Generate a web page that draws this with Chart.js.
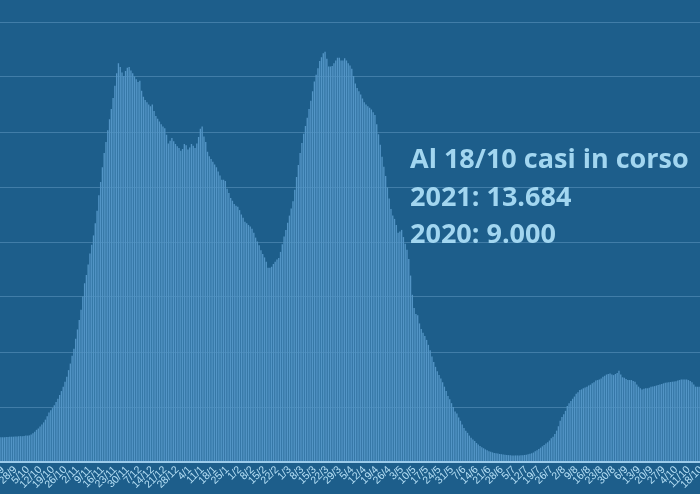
<!DOCTYPE html>
<html lang="it">
<head>
<meta charset="utf-8">
<title>Casi in corso</title>
<script src="https://cdn.jsdelivr.net/npm/chart.js@4"></script>
<style>
  html, body { margin: 0; padding: 0; background: #1d5e8b; overflow: hidden; }
  #wrap { width: 700px; height: 494px; position: relative; }
</style>
</head>
<body>
<div id="wrap"><canvas id="chart"></canvas></div>
<script>
// casi in corso (migliaia), un valore al giorno dal 21/9/2020 al 18/10/2021
const casiInCorso = [
  4.5, 4.5, 4.5, 4.55, 4.55, 4.6, 4.6, 4.6, 4.65, 4.65,
  4.7, 4.7, 4.7, 4.75, 4.8, 4.8, 4.85, 5.0, 5.25, 5.5,
  5.85, 6.1, 6.45, 6.8, 7.2, 7.7, 8.3, 9.0, 9.4, 9.8,
  10.3, 10.9, 11.5, 12.2, 12.9, 13.7, 14.6, 15.5, 16.7, 17.9,
  19.3, 20.6, 22.4, 24.1, 25.8, 27.7, 30.1, 32.5, 34.0, 35.9,
  37.9, 39.5, 41.2, 43.4, 45.7, 48.5, 50.9, 53.6, 56.2, 58.2,
  60.3, 62.3, 64.2, 66.2, 68.4, 70.7, 72.5, 71.8, 70.8, 70.2,
  71.1, 71.7, 71.8, 71.2, 70.7, 70.1, 69.6, 69.1, 69.3, 67.5,
  66.4, 65.8, 65.4, 65.0, 64.7, 65.0, 63.8, 62.9, 62.4, 61.9,
  61.4, 61.0, 60.7, 59.5, 57.9, 58.4, 58.9, 58.3, 57.8, 57.4,
  57.1, 56.6, 56.9, 57.8, 57.6, 56.8, 57.2, 57.8, 57.5, 57.1,
  57.9, 59.1, 60.6, 61.0, 59.2, 58.2, 56.4, 55.6, 55.1, 54.6,
  54.1, 53.6, 52.8, 52.1, 51.3, 51.3, 51.1, 49.7, 48.9, 48.0,
  47.5, 46.9, 46.6, 46.4, 45.8, 45.0, 44.4, 43.7, 43.4, 43.1,
  42.8, 42.4, 41.7, 40.8, 40.1, 39.4, 38.5, 37.8, 37.2, 36.4,
  35.3, 35.3, 35.5, 36.0, 36.4, 36.8, 37.1, 38.2, 39.6, 41.0,
  42.2, 43.5, 44.8, 46.1, 47.4, 49.5, 51.8, 54.0, 56.2, 58.0,
  59.7, 61.1, 62.6, 64.2, 65.7, 67.4, 69.2, 70.4, 71.6, 72.9,
  73.6, 74.3, 74.6, 73.3, 71.9, 71.9, 72.0, 72.5, 73.0, 73.5,
  73.5, 73.0, 73.0, 73.4, 73.0, 72.5, 72.1, 71.5, 70.2, 68.8,
  68.0, 67.4, 66.8, 66.1, 65.4, 65.0, 64.7, 64.4, 64.1, 63.6,
  63.1, 61.4, 59.6, 57.7, 55.5, 53.7, 52.0, 49.9, 47.9, 46.0,
  44.8, 44.2, 43.1, 41.7, 41.9, 42.2, 40.9, 39.7, 38.6, 36.9,
  33.9, 30.4, 28.0, 26.9, 26.7, 25.2, 24.2, 23.5, 22.9, 22.2,
  21.3, 20.3, 19.2, 18.2, 17.3, 16.5, 15.8, 15.2, 14.5, 13.7,
  12.9, 12.0, 11.4, 10.7, 10.0, 9.2, 8.8, 8.1, 7.5, 6.8,
  6.2, 5.7, 5.3, 4.8, 4.4, 4.1, 3.8, 3.45, 3.2, 2.9,
  2.7, 2.5, 2.3, 2.15, 1.95, 1.85, 1.75, 1.65, 1.6, 1.55,
  1.45, 1.42, 1.38, 1.32, 1.27, 1.25, 1.22, 1.2, 1.2, 1.2,
  1.2, 1.2, 1.22, 1.25, 1.28, 1.32, 1.4, 1.5, 1.6, 1.72,
  1.95, 2.15, 2.35, 2.6, 2.85, 3.1, 3.35, 3.6, 3.9, 4.3,
  4.6, 5.1, 5.7, 6.5, 7.5, 8.2, 8.7, 9.3, 10.2, 10.7,
  11.1, 11.5, 11.9, 12.4, 12.7, 13.1, 13.2, 13.4, 13.55, 13.7,
  13.9, 14.05, 14.3, 14.5, 14.8, 14.9, 15.0, 15.2, 15.5, 15.7,
  15.9, 16.0, 16.1, 15.9, 15.8, 16.0, 16.2, 16.6, 15.9, 15.4,
  15.3, 15.1, 14.9, 14.9, 14.9, 14.75, 14.6, 14.1, 13.7, 13.4,
  13.2, 13.3, 13.4, 13.4, 13.5, 13.7, 13.75, 13.8, 13.9, 14.0,
  14.1, 14.2, 14.3, 14.4, 14.45, 14.5, 14.55, 14.6, 14.65, 14.7,
  14.8, 14.9, 15.0, 15.0, 15.0, 15.0, 14.9, 14.75, 14.5, 14.1,
  13.7, 13.7, 13.684
];

// etichette settimanali dell'asse x (una ogni 7 giorni)
const tickLabels = [
  '21/9', '28/9', '5/10', '12/10', '19/10', '26/10', '2/11', '9/11', '16/11', '23/11',
  '30/11', '7/12', '14/12', '21/12', '28/12', '4/1', '11/1', '18/1', '25/1', '1/2',
  '8/2', '15/2', '22/2', '1/3', '8/3', '15/3', '22/3', '29/3', '5/4', '12/4',
  '19/4', '26/4', '3/5', '10/5', '17/5', '24/5', '31/5', '7/6', '14/6', '21/6',
  '28/6', '5/7', '12/7', '19/7', '26/7', '2/8', '9/8', '16/8', '23/8', '30/8',
  '6/9', '13/9', '20/9', '27/9', '4/10', '11/10', '18/10'
];

const noteLines = ['Al 18/10 casi in corso', '2021: 13.684', '2020: 9.000'];

// giorni come categorie
const days = casiInCorso.map((v, i) => {
  const d = new Date(2020, 8, 21 + i);
  return d.getDate() + '/' + (d.getMonth() + 1);
});

// etichette ruotate e testo in sovrimpressione
const extraText = {
  id: 'extraText',
  afterDraw(chart) {
    const ctx = chart.ctx;
    const xs = chart.scales.x;
    const bottom = chart.chartArea.bottom;
    ctx.save();
    ctx.font = '10.5px "Liberation Sans", sans-serif';
    ctx.fillStyle = '#b6e0f6';
    ctx.textAlign = 'right';
    ctx.textBaseline = 'middle';
    tickLabels.forEach((lab, k) => {
      const px = xs.getPixelForValue(k * 7);
      ctx.save();
      ctx.translate(px + 2, bottom + 6);
      ctx.rotate(-Math.PI / 4);
      ctx.fillText(lab, 0, 0);
      ctx.restore();
    });

    ctx.font = 'bold 27px "Open Sans", sans-serif';
    ctx.fillStyle = '#a2d6f0';
    ctx.textAlign = 'left';
    ctx.textBaseline = 'alphabetic';
    noteLines.forEach((t, j) => ctx.fillText(t, 410, 168 + j * 37.5));
    ctx.restore();
  }
};

new Chart(document.getElementById('chart'), {
  type: 'bar',
  data: {
    labels: days,
    datasets: [{
      data: casiInCorso,
      backgroundColor: '#5395c6',
      barPercentage: 1,
      categoryPercentage: 0.75
    }]
  },
  options: {
    responsive: true,
    maintainAspectRatio: false,
    animation: false,
    layout: { padding: { top: 0, left: 0, right: 0, bottom: 32 } },
    plugins: {
      legend: { display: false },
      tooltip: { enabled: false }
    },
    scales: {
      x: {
        display: false
      },
      y: {
        min: 0,
        max: 84,
        z: 1,
        ticks: { display: false, stepSize: 10, includeBounds: false },
        border: { display: false },
        grid: {
          drawTicks: false,
          color: c => c.tick.value === 0 ? '#9ccbea' : 'rgba(150, 200, 235, 0.3)',
          lineWidth: c => c.tick.value === 0 ? 2 : 1
        }
      }
    }
  },
  plugins: [extraText]
});
</script>
</body>
</html>
